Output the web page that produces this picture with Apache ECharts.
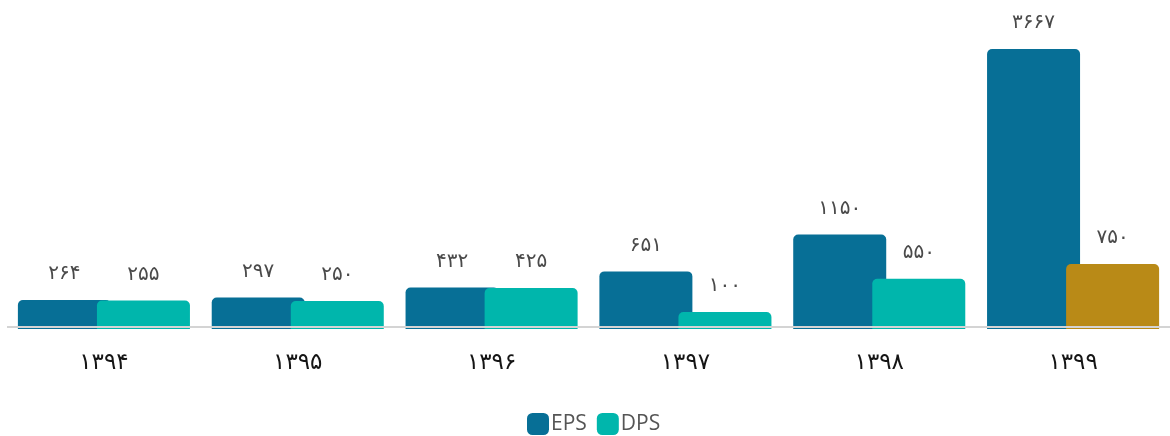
<!DOCTYPE html>
<html>
<head>
<meta charset="utf-8">
<script src="https://cdn.jsdelivr.net/npm/echarts@6/dist/echarts.min.js"></script>
<style>
  html, body { margin: 0; padding: 0; background: #fff; }
  #chart { width: 1170px; height: 436px; }
</style>
</head>
<body>
<div id="chart"></div>
<script>
// Fiscal years (Solar Hijri) and per-share figures
const years = ['۱۳۹۴', '۱۳۹۵', '۱۳۹۶', '۱۳۹۷', '۱۳۹۸', '۱۳۹۹'];
const eps = [264, 297, 432, 651, 1150, 3667];
const dps = [255, 250, 425, 100, 550, 750];
const seriesNames = ['EPS', 'DPS'];

const EPS_COLOR = '#076f96';
const DPS_COLOR = '#00b6ac';
const DPS_LAST_COLOR = '#b98a17';

// Bars rise from a floor slightly below zero
const AXIS_FLOOR = -130;

const toFa = n => String(n).replace(/\d/g, d => '۰۱۲۳۴۵۶۷۸۹'[d]);

const labelStyle = {
  show: true,
  position: 'top',
  distance: 16,
  fontFamily: 'DejaVu Sans',
  fontSize: 20,
  color: '#4a4a4a',
  formatter: p => toFa(p.value)
};

const chart = echarts.init(document.getElementById('chart'));
chart.setOption({
  animation: false,
  grid: { left: 7, width: 1167, top: 49, bottom: 107 },
  xAxis: {
    type: 'category',
    data: years,
    axisLine: { show: false },
    axisTick: { show: false },
    axisLabel: { fontFamily: 'DejaVu Sans', fontSize: 23, color: '#151515', margin: 23 }
  },
  yAxis: {
    type: 'value',
    min: AXIS_FLOOR,
    max: 3667,
    startValue: AXIS_FLOOR,
    show: false,
    splitLine: { show: false }
  },
  legend: {
    bottom: -4,
    left: 522,
    icon: 'roundRect',
    itemWidth: 22,
    itemHeight: 22,
    itemGap: 10,
    textStyle: { fontFamily: 'Open Sans', fontSize: 21, color: '#555', padding: [0, 0, 0, -3] },
    data: seriesNames
  },
  series: [
    {
      name: seriesNames[0],
      type: 'bar',
      data: eps,
      barWidth: 93,
      barGap: '-15%',
      itemStyle: { color: EPS_COLOR, borderRadius: [5, 5, 0, 0] },
      label: labelStyle,
      markLine: {
        silent: true,
        symbol: 'none',
        label: { show: false },
        lineStyle: { color: '#d4d4d4', width: 2, type: 'solid' },
        data: [{ yAxis: AXIS_FLOOR + 27 }],
        z: 10
      }
    },
    {
      name: seriesNames[1],
      type: 'bar',
      data: dps.map((v, i) => i === dps.length - 1
        ? { value: v, itemStyle: { color: DPS_LAST_COLOR } }
        : v),
      barWidth: 93,
      itemStyle: { color: DPS_COLOR, borderRadius: [5, 5, 0, 0] },
      label: labelStyle
    }
  ]
});
</script>
</body>
</html>
